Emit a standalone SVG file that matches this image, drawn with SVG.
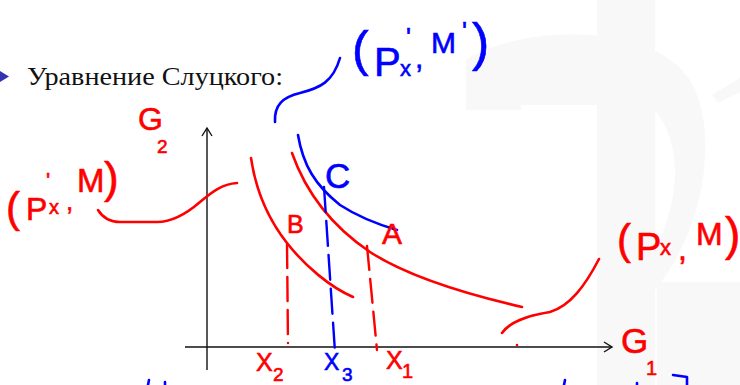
<svg xmlns="http://www.w3.org/2000/svg" width="740" height="385" viewBox="0 0 740 385">
<defs>
<style>
.r{fill:none;stroke:#f00;stroke-width:2.6;stroke-linecap:round;stroke-linejoin:round}
.b{fill:none;stroke:#00f;stroke-width:2.6;stroke-linecap:round;stroke-linejoin:round}
.ax{fill:none;stroke:#111;stroke-width:1.4}
.rd{fill:none;stroke:#f00;stroke-width:2.4;stroke-dasharray:24 9;stroke-linecap:round}
.bd{fill:none;stroke:#00f;stroke-width:2.4;stroke-dasharray:25 9;stroke-linecap:round}
.hr{font-family:"Liberation Sans",Arial,sans-serif;fill:#f00;stroke:#f00;stroke-width:0.6}
.hb{font-family:"Liberation Sans",Arial,sans-serif;fill:#00f;stroke:#00f;stroke-width:0.6}
.wm{fill:#f8f8f8}
</style>
</defs>
<rect width="740" height="385" fill="#fff"/>
<g id="watermark">
<rect class="wm" x="597" y="0" width="58" height="385"/>
<path d="M466,110 L466,60 C520,25 650,20 690,80 C720,130 705,230 655,290 L655,250 C680,200 685,140 650,105 L521,105 L521,110 Z" class="wm"/>
<path d="M712,95 L740,78 L740,92 L718,103 Z" class="wm"/>
<rect class="wm" x="657" y="282" width="83" height="103"/>
</g>
<g id="header">
<polygon points="0,71 9,76.5 0,82" fill="#3333b2"/>
<text x="27" y="85" font-family="Liberation Serif,serif" font-size="25" fill="#111" textLength="256" lengthAdjust="spacingAndGlyphs">Уравнение Слуцкого:</text>
</g>
<g id="axes">
<path class="ax" d="M207,128 L207,370"/>
<path class="ax" d="M202,136 L207,128 L212,136"/>
<path class="ax" d="M185,347 L612,347"/>
<path class="ax" d="M604,342 L612,347 L604,352"/>
</g>
<g id="curves">
<path id="curve-inner" class="r" d="M251,158 C255,185 265,215 287,243 C305,266 330,287 353,297"/>
<path id="curve-outer" class="r" d="M292,153 C305,190 330,225 370,252 C410,278 470,295 522,307"/>
<path id="curve-blue" class="b" d="M298,135 C303,165 315,185 340,205 C360,218 380,225 397,230"/>
</g>
<g id="connectors">
<path class="r" d="M98,210 C103,218 110,222 120,222 L157,222 C172,222 185,215 200,202 C212,192 222,184 237,183"/>
<path class="b" d="M275,122 C274,105 283,97 300,93 C320,88 333,82 340,58"/>
<path class="r" d="M502,333 C510,322 525,316 550,312 C570,306 585,286 599,259"/>
<path class="rd" d="M287,244 L288,343"/>
<path class="bd" d="M324,187 L335,352"/>
<path class="rd" d="M367,246 L377,350"/>
<circle cx="517" cy="345" r="1.3" fill="#f00"/>
<path class="b" d="M149,380 L148,385 M165,382 L165,385 M565,380 L564,385 M637,383 L637,385 M673,375 L687,377 L687,385"/>
</g>
<g id="label-G2"><text class="hr" x="138" y="130" font-size="32">G</text><text class="hr" x="157" y="153" font-size="19">2</text></g>
<g id="label-PxM-left"><text class="hr"><tspan x="6" y="222" font-size="42">(</tspan><tspan x="26" y="220" font-size="32">P</tspan><tspan x="46" y="188" font-size="22">'</tspan><tspan x="49" y="214" font-size="20">x</tspan><tspan x="66" y="210" font-size="26">,</tspan><tspan x="77" y="192" font-size="33">M</tspan><tspan x="104" y="193" font-size="44">)</tspan></text></g>
<g id="label-PxM-blue"><text class="hb"><tspan x="352" y="66" font-size="50">(</tspan><tspan x="374" y="76" font-size="40">P</tspan><tspan x="406" y="46" font-size="26">'</tspan><tspan x="400" y="76" font-size="22">x</tspan><tspan x="415" y="68" font-size="30">,</tspan><tspan x="431" y="53" font-size="30">M</tspan><tspan x="462" y="40" font-size="26">'</tspan><tspan x="472" y="60" font-size="52">)</tspan></text></g>
<g id="label-PxM-right"><text class="hr"><tspan x="617" y="254" font-size="42">(</tspan><tspan x="636" y="260" font-size="38">P</tspan><tspan x="660" y="255" font-size="22">x</tspan><tspan x="678" y="260" font-size="32">,</tspan><tspan x="696" y="245" font-size="32">M</tspan><tspan x="725" y="250" font-size="46">)</tspan></text></g>
<g id="label-C"><text class="hb" x="325" y="188" font-size="35">C</text></g>
<g id="label-B"><text class="hr" x="287" y="233" font-size="25">B</text></g>
<g id="label-A"><text class="hr" x="382" y="244" font-size="30">A</text></g>
<g id="label-X2"><text class="hr" x="256" y="371" font-size="25">X</text><text class="hr" x="273" y="381" font-size="19">2</text></g>
<g id="label-X3"><text class="hb" x="324" y="370" font-size="23">X</text><text class="hb" x="342" y="381" font-size="19">3</text></g>
<g id="label-X1"><text class="hr" x="386" y="369" font-size="25">X</text><text class="hr" x="402" y="378" font-size="20">1</text></g>
<g id="label-G1"><text class="hr" x="621" y="353" font-size="35">G</text><text class="hr" x="646" y="375" font-size="20">1</text></g>
</svg>
